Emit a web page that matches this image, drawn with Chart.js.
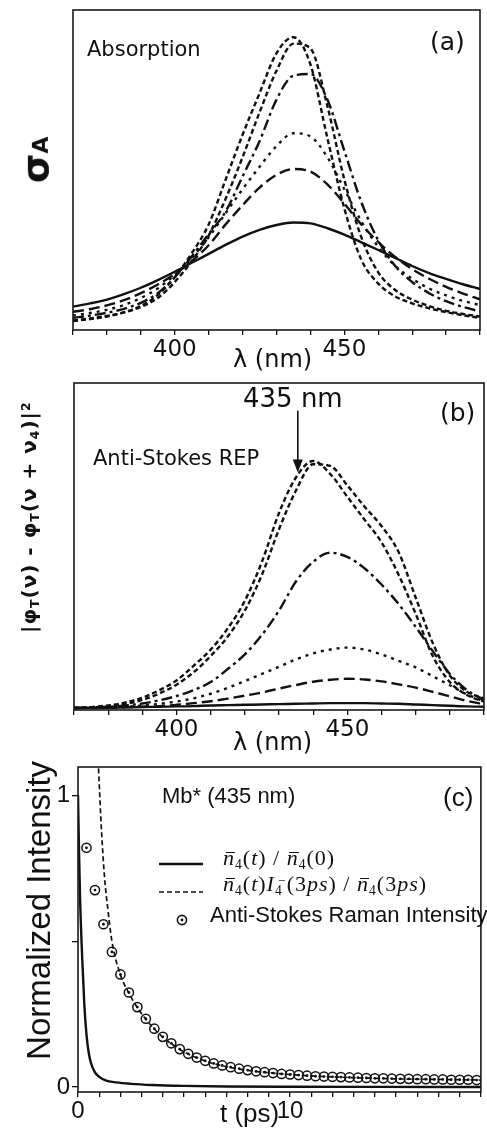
<!DOCTYPE html>
<html>
<head>
<meta charset="utf-8">
<script src="https://cdn.jsdelivr.net/npm/chart.js@4.4.0/dist/chart.umd.min.js"></script>
<style>
  body { margin: 0; background: #fff; width: 487px; height: 1132px; position: relative; overflow: hidden; }
  canvas { position: absolute; left: 0; }
  .t { position: absolute; white-space: nowrap; color: #111; line-height: 1; }
  .sb { position: relative; font-size: 0.62em; top: 0.28em; }
  .sp { position: relative; font-size: 0.62em; top: -0.45em; }
  .nb { display: inline-block; position: relative; }
  .nb::before { content: ''; position: absolute; left: 0.12em; right: -0.02em; top: 0.22em; border-top: 1.2px solid #111; }
</style>
</head>
<body>
<canvas id="chartA" width="487" height="372" style="top:0"></canvas>
<canvas id="chartB" width="487" height="388" style="top:372px"></canvas>
<canvas id="chartC" width="487" height="372" style="top:760px"></canvas>
<script>
// wavelength grid (nm) shared by panels (a) and (b)
const lambda = [370, 375, 380, 385, 390, 395, 400, 405, 410, 415, 420, 425, 430,
                435, 440, 445, 450, 455, 460, 465, 470, 475, 480, 485, 490];
const lambdaTicks = [370, 380, 390, 400, 410, 420, 430, 440, 450, 460, 470, 480, 490];
const lambdaLabels = [400, 450];

// (a) absorption cross section (arb. units)
const absSolid   = [0.073, 0.083, 0.095, 0.112, 0.132, 0.156, 0.182, 0.210, 0.238, 0.266, 0.292, 0.313, 0.328,
                    0.336, 0.333, 0.318, 0.298, 0.274, 0.250, 0.225, 0.200, 0.178, 0.160, 0.143, 0.128];
const absLong    = [0.057, 0.065, 0.077, 0.093, 0.115, 0.142, 0.175, 0.215, 0.265, 0.330, 0.390, 0.445, 0.485,
                    0.503, 0.495, 0.455, 0.395, 0.330, 0.275, 0.228, 0.190, 0.160, 0.135, 0.114, 0.096];
const absDot     = [0.045, 0.053, 0.063, 0.078, 0.100, 0.130, 0.172, 0.225, 0.290, 0.365, 0.440, 0.510, 0.575,
                    0.615, 0.605, 0.540, 0.440, 0.340, 0.260, 0.200, 0.160, 0.130, 0.108, 0.091, 0.078];
const absDashDot = [0.038, 0.045, 0.054, 0.066, 0.085, 0.115, 0.165, 0.230, 0.300, 0.370, 0.480, 0.590, 0.720,
                    0.795, 0.800, 0.720, 0.560, 0.400, 0.280, 0.200, 0.150, 0.115, 0.090, 0.072, 0.058];
const absShort1  = [0.028, 0.034, 0.042, 0.055, 0.075, 0.110, 0.165, 0.240, 0.330, 0.470, 0.610, 0.740, 0.865,
                    0.915, 0.830, 0.600, 0.380, 0.220, 0.145, 0.105, 0.083, 0.068, 0.056, 0.046, 0.038];
const absShort2  = [0.030, 0.036, 0.044, 0.055, 0.072, 0.100, 0.150, 0.215, 0.295, 0.410, 0.540, 0.680, 0.810,
                    0.895, 0.880, 0.700, 0.470, 0.290, 0.180, 0.125, 0.095, 0.075, 0.060, 0.050, 0.042];

// (b) anti-Stokes resonance excitation profile (arb. units)
const repSolid   = [0.000, 0.001, 0.001, 0.002, 0.003, 0.004, 0.005, 0.006, 0.008, 0.009, 0.010, 0.011, 0.012,
                    0.013, 0.014, 0.015, 0.015, 0.015, 0.014, 0.013, 0.011, 0.009, 0.007, 0.005, 0.004];
const repLong    = [0.000, 0.000, 0.001, 0.002, 0.004, 0.006, 0.010, 0.015, 0.021, 0.029, 0.038, 0.048, 0.060,
                    0.071, 0.081, 0.087, 0.090, 0.088, 0.082, 0.073, 0.063, 0.050, 0.036, 0.022, 0.012];
const repDot     = [0.000, 0.001, 0.002, 0.004, 0.008, 0.013, 0.020, 0.030, 0.044, 0.062, 0.083, 0.105, 0.127,
                    0.150, 0.168, 0.180, 0.186, 0.180, 0.165, 0.145, 0.125, 0.098, 0.070, 0.042, 0.020];
const repDashDot = [0.000, 0.002, 0.004, 0.008, 0.014, 0.024, 0.037, 0.055, 0.080, 0.120, 0.165, 0.225, 0.300,
                    0.390, 0.450, 0.478, 0.465, 0.430, 0.380, 0.320, 0.250, 0.175, 0.105, 0.055, 0.025];
const repShort1  = [0.000, 0.003, 0.008, 0.017, 0.032, 0.055, 0.085, 0.130, 0.180, 0.245, 0.330, 0.450, 0.600,
                    0.710, 0.760, 0.720, 0.650, 0.580, 0.510, 0.410, 0.290, 0.160, 0.080, 0.040, 0.020];
const repShort2  = [0.000, 0.002, 0.006, 0.013, 0.025, 0.045, 0.072, 0.110, 0.160, 0.220, 0.300, 0.410, 0.550,
                    0.670, 0.750, 0.745, 0.685, 0.620, 0.560, 0.480, 0.340, 0.200, 0.100, 0.050, 0.030];

// (c) normalized intensity vs time
const tSolid  = [0, 0.05, 0.1, 0.2, 0.3, 0.4, 0.5, 0.6, 0.8, 1.0, 1.3, 1.8, 2.5, 3.5, 5, 7, 10, 14, 19];
const nSolid  = [1.0, 0.80, 0.64, 0.44, 0.28, 0.18, 0.12, 0.085, 0.05, 0.035, 0.023, 0.016, 0.011, 0.007,
                 0.004, 0.002, 0.001, 0.0005, 0.0003];
const tDashed = [0.95, 1.0, 1.1, 1.25, 1.4, 1.6, 2.0, 2.4, 2.8, 3.2, 3.6, 4.0, 4.8, 5.6, 6.4, 7.2, 8.0, 9.0,
                 10, 11, 12, 13, 14, 15, 16, 17, 18, 19];
const nDashed = [1.12, 1.04, 0.89, 0.72, 0.615, 0.50, 0.385, 0.322, 0.272, 0.232, 0.199, 0.171, 0.129, 0.100,
                 0.080, 0.067, 0.057, 0.049, 0.043, 0.038, 0.035, 0.032, 0.030, 0.028, 0.027, 0.026, 0.025, 0.024];
const tRaman  = [0.4, 0.8, 1.2, 1.6, 2.0, 2.4, 2.8, 3.2, 3.6, 4.0, 4.4, 4.8, 5.2, 5.6, 6.0, 6.4, 6.8, 7.2,
                 7.6, 8.0, 8.4, 8.8, 9.2, 9.6, 10.0, 10.4, 10.8, 11.2, 11.6, 12.0, 12.4, 12.8, 13.2, 13.6,
                 14.0, 14.4, 14.8, 15.2, 15.6, 16.0, 16.4, 16.8, 17.2, 17.6, 18.0, 18.4, 18.8];
const iRaman  = [0.82, 0.675, 0.558, 0.463, 0.386, 0.324, 0.274, 0.234, 0.200, 0.172, 0.150, 0.130, 0.114,
                 0.101, 0.090, 0.081, 0.074, 0.068, 0.063, 0.058, 0.054, 0.051, 0.048, 0.045, 0.043, 0.041,
                 0.039, 0.037, 0.036, 0.035, 0.034, 0.033, 0.032, 0.031, 0.030, 0.030, 0.029, 0.028, 0.028,
                 0.027, 0.027, 0.026, 0.026, 0.025, 0.025, 0.025, 0.024];
const tTicks  = [0, 1, 2, 3, 4, 5, 6, 7, 8, 9, 10, 11, 12, 13, 14, 15, 16, 17, 18, 19];
const tLabels = [0, 10];
const yTicksC = [0, 0.5, 1];
const yLabelsC = [0, 1];

const INK = '#111';
const dashes = {
  solid: [],
  long: [11, 5],
  dot: [3, 5],
  dashDot: [11, 4, 3, 4],
  short: [5, 3]
};

const pts = (xs, ys) => xs.map((x, i) => ({ x: x, y: ys[i] }));

const line = (ys, dash, xs) => ({
  data: pts(xs || lambda, ys),
  borderColor: INK,
  borderWidth: 2.4,
  borderDash: dash,
  pointRadius: 0,
  fill: false,
  cubicInterpolationMode: 'monotone'
});

const frame = {
  id: 'frame',
  afterDatasetsDraw(chart) {
    const { ctx, chartArea: a } = chart;
    ctx.save();
    ctx.strokeStyle = '#1a1a1a';
    ctx.lineWidth = 1.6;
    ctx.strokeRect(a.left, a.top, a.right - a.left, a.bottom - a.top);
    ctx.restore();
  }
};

const noPad = (s, key, size) => {
  s[key] = size;
  s.paddingTop = 0; s.paddingBottom = 0; s.paddingLeft = 0; s.paddingRight = 0;
};

const tickGrid = { display: true, drawOnChartArea: false, drawTicks: true, tickLength: 5, color: INK, lineWidth: 1.3 };

function spectrum(id, pad, yAxisW, xAxisH, yMin, yMax, datasets, extra) {
  return new Chart(document.getElementById(id).getContext('2d'), {
    type: 'line',
    data: { datasets: datasets },
    options: {
      responsive: false,
      animation: false,
      events: [],
      devicePixelRatio: 1,
      layout: { padding: pad },
      plugins: { legend: { display: false }, tooltip: { enabled: false } },
      scales: {
        x: {
          type: 'linear', min: 370, max: 490,
          afterBuildTicks: s => { s.ticks = lambdaTicks.map(v => ({ value: v })); },
          afterFit: s => noPad(s, 'height', xAxisH),
          grid: tickGrid,
          border: { display: false },
          ticks: {
            autoSkip: false, maxRotation: 0, padding: 1, color: INK,
            font: { family: 'DejaVu Sans', size: 23 },
            callback: v => lambdaLabels.includes(v) ? String(v) : ''
          }
        },
        y: {
          min: yMin, max: yMax,
          afterFit: s => noPad(s, 'width', yAxisW),
          grid: { display: false },
          border: { display: false },
          ticks: { display: false }
        }
      }
    },
    plugins: [frame].concat(extra || [])
  });
}

spectrum('chartA', { top: 10, right: 7, left: 0, bottom: 0 }, 73, 42, 0, 1, [
  line(absSolid, dashes.solid),
  line(absLong, dashes.long),
  line(absDot, dashes.dot),
  line(absDashDot, dashes.dashDot),
  line(absShort1, dashes.short),
  line(absShort2, dashes.short)
]);

const arrow = {
  id: 'arrow',
  afterDatasetsDraw(chart) {
    const { ctx, scales } = chart;
    const x = scales.x.getPixelForValue(435.5);
    const y0 = scales.y.getPixelForValue(0.915);
    const y1 = scales.y.getPixelForValue(0.725);
    ctx.save();
    ctx.strokeStyle = INK; ctx.fillStyle = INK; ctx.lineWidth = 1.6;
    ctx.beginPath(); ctx.moveTo(x, y0); ctx.lineTo(x, y1 - 10); ctx.stroke();
    ctx.beginPath(); ctx.moveTo(x - 5, y1 - 13); ctx.lineTo(x + 5, y1 - 13); ctx.lineTo(x, y1); ctx.closePath(); ctx.fill();
    ctx.restore();
  }
};

spectrum('chartB', { top: 11, right: 3, left: 0, bottom: 0 }, 74, 50, -0.006, 1, [
  line(repSolid, dashes.solid),
  line(repLong, dashes.long),
  line(repDot, dashes.dot),
  line(repDashDot, dashes.dashDot),
  line(repShort1, dashes.short),
  line(repShort2, dashes.short)
], [arrow]);

const legendC = {
  id: 'legendC',
  afterDatasetsDraw(chart) {
    const ctx = chart.ctx;
    ctx.save();
    ctx.strokeStyle = INK; ctx.fillStyle = INK; ctx.lineWidth = 2.6;
    ctx.beginPath(); ctx.moveTo(159, 104); ctx.lineTo(203, 104); ctx.stroke();
    ctx.lineWidth = 1.7; ctx.setLineDash([5, 3]);
    ctx.beginPath(); ctx.moveTo(159, 132); ctx.lineTo(203, 132); ctx.stroke();
    ctx.setLineDash([]);
    ctx.lineWidth = 1.6;
    ctx.beginPath(); ctx.arc(182, 160, 4.6, 0, Math.PI * 2); ctx.stroke();
    ctx.beginPath(); ctx.arc(182, 160, 1.4, 0, Math.PI * 2); ctx.fill();
    ctx.restore();
  }
};

new Chart(document.getElementById('chartC').getContext('2d'), {
  type: 'line',
  data: {
    datasets: [
      line(nSolid, dashes.solid, tSolid),
      Object.assign(line(nDashed, [5, 3], tDashed), { borderWidth: 1.7 }),
      {
        // ring of each Raman point
        data: pts(tRaman, iRaman), showLine: false,
        pointStyle: 'circle', pointRadius: 4.6, pointBorderWidth: 1.5,
        pointBorderColor: INK, pointBackgroundColor: 'rgba(0,0,0,0)'
      },
      {
        // centre dot of each Raman point
        data: pts(tRaman, iRaman), showLine: false,
        pointStyle: 'circle', pointRadius: 1.4, pointBorderWidth: 0,
        pointBackgroundColor: INK
      }
    ]
  },
  options: {
    responsive: false,
    animation: false,
    events: [],
    devicePixelRatio: 1,
    layout: { padding: { top: 7, right: 1, left: 0, bottom: 0 } },
    plugins: { legend: { display: false }, tooltip: { enabled: false } },
    scales: {
      x: {
        type: 'linear', min: 0, max: 19,
        afterBuildTicks: s => { s.ticks = tTicks.map(v => ({ value: v })); },
        afterFit: s => noPad(s, 'height', 40),
        grid: tickGrid,
        border: { display: false },
        ticks: {
          autoSkip: false, maxRotation: 0, padding: 0, color: INK,
          font: { family: 'Liberation Sans', size: 24 },
          callback: v => tLabels.includes(v) ? String(v) : ''
        }
      },
      y: {
        min: -0.017, max: 1.097,
        afterBuildTicks: s => { s.ticks = yTicksC.map(v => ({ value: v })); },
        afterFit: s => noPad(s, 'width', 78),
        grid: Object.assign({}, tickGrid, { tickLength: 6 }),
        border: { display: false },
        ticks: {
          autoSkip: false, padding: 2, color: INK,
          font: { family: 'Liberation Sans', size: 24 },
          callback: v => yLabelsC.includes(v) ? String(v) : ''
        }
      }
    }
  },
  plugins: [frame, legendC]
});

// text annotations, placed by their baseline
function label(html, x, base, size, family, opts) {
  opts = opts || {};
  const d = document.createElement('div');
  d.className = 't';
  d.innerHTML = html;
  d.style.fontFamily = family;
  d.style.fontSize = size + 'px';
  if (opts.weight) d.style.fontWeight = opts.weight;
  if (opts.spacing) d.style.letterSpacing = opts.spacing + 'px';
  const asc = 0.845 * size;
  d.style.left = x + 'px';
  d.style.top = (base - asc) + 'px';
  if (opts.rotate) {
    d.style.transformOrigin = '0 ' + asc + 'px';
    d.style.transform = 'rotate(-90deg)';
  }
  document.body.appendChild(d);
}

const SANS_W = "'DejaVu Sans'";
const SANS = "'Liberation Sans', Arial";
const SERIF = "'Liberation Serif', 'Times New Roman'";

// panel (a)
label('Absorption', 87, 57, 21, SANS_W);
label('(a)', 430, 50, 25, SANS_W);
label('λ (nm)', 233, 367, 24, SANS_W);
label('σ<span style="font-size:0.58em">A</span>', 48, 183, 38, SANS_W, { rotate: true, weight: 'bold' });

// panel (b)
label('435 nm', 243, 407, 26, SANS_W);
label('(b)', 440, 421, 25, SANS_W);
label('Anti-Stokes REP', 93, 466, 21, SANS_W);
label('λ (nm)', 233, 750, 24, SANS_W);
label('|φ<span class="sb">T</span>(ν) - φ<span class="sb">T</span>(ν + ν<span class="sb">4</span>)|<span class="sp">2</span>',
      36, 633, 20, SANS_W, { rotate: true, weight: 'bold', spacing: 1 });

// panel (c)
label('Mb* (435 nm)', 162, 804, 22, SANS);
label('(c)', 443, 806, 26, SANS);
label('Normalized Intensity', 50, 1060, 33, SANS, { rotate: true });
label('t (ps)', 220, 1122, 26, SANS);
label('<i class="nb">n</i><span class="sb">4</span>(<i>t</i>) / <i class="nb">n</i><span class="sb">4</span>(0)',
      223, 866, 22, SERIF, { spacing: 1 });
label('<i class="nb">n</i><span class="sb">4</span>(<i>t</i>)<i>I</i><span class="sb">4</span><span class="sp" style="margin-left:-0.35em">−</span>(3<i>ps</i>) / <i class="nb">n</i><span class="sb">4</span>(3<i>ps</i>)',
      223, 892, 22, SERIF, { spacing: 1 });
label('Anti-Stokes Raman Intensity', 210, 923, 22, SANS);
</script>
</body>
</html>
